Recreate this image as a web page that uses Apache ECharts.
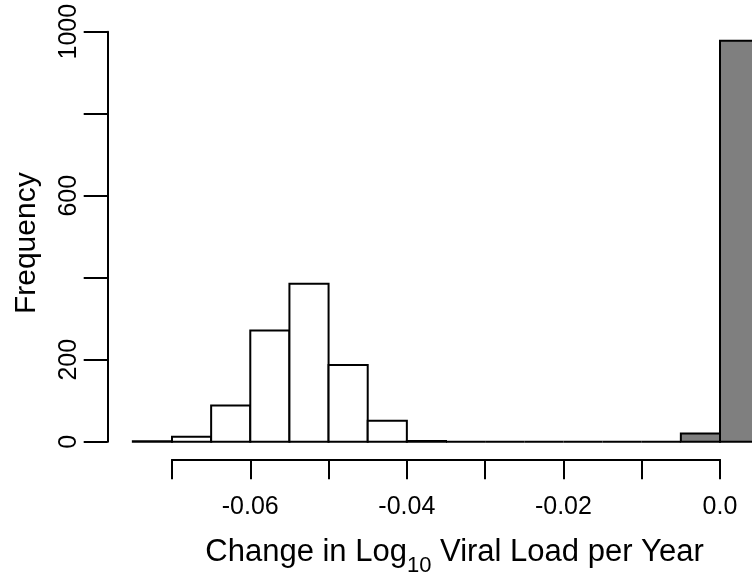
<!DOCTYPE html>
<html>
<head>
<meta charset="utf-8">
<script src="https://cdn.jsdelivr.net/npm/echarts@6/dist/echarts.min.js"></script>
<style>
html,body{margin:0;padding:0;background:#fff;}
#chart{width:752px;height:572px;}
</style>
</head>
<body>
<div id="chart"></div>
<script>
// Histogram bins (left edges) and counts
var binStarts = [-0.075,-0.070,-0.065,-0.060,-0.055,-0.050,-0.045,-0.040,-0.035,-0.030,-0.025,-0.020,-0.015,-0.010,-0.005,0.000];
var binWidth = 0.005;
var counts = [1,12,88,271,385,187,51,2,0,0,0,0,0,0,20,978];
var fillGroup = ['neg','neg','neg','neg','neg','neg','neg','neg','neg','neg','neg','neg','neg','neg','zero','zero'];
var xTickLabels = {'-0.06':'-0.06','-0.04':'-0.04','-0.02':'-0.02','0':'0.0'};
var yTickLabels = [0,200,600,1000];

var fillColors = {neg:'#ffffff', zero:'#7f7f7f'};
var FONT = 'Liberation Sans, Arial, Helvetica, sans-serif';

var data = binStarts.map(function(s,i){
  return {value:[s, s+binWidth, counts[i]], itemStyle:{color:fillColors[fillGroup[i]]}};
});

var chart = echarts.init(document.getElementById('chart'), null, {renderer:'canvas'});
var pxPerUnit = 548/0.07;
var mainLeft = 720 - 0.075*pxPerUnit;
var mainMax = (752 - 720)/pxPerUnit;
var mainWidth = 752 - mainLeft;

chart.setOption({
  animation:false,
  backgroundColor:'#fff',
  title:{
    text:'{a|Change in Log}{s|10}{a| Viral Load per Year}',
    left:449.5, textAlign:'center', top:532,
    textStyle:{
      fontWeight:'normal',
      rich:{
        a:{fontFamily:FONT,fontSize:31,fontWeight:'normal',color:'#000',lineHeight:40,verticalAlign:'top'},
        s:{fontFamily:FONT,fontSize:22,fontWeight:'normal',color:'#000',lineHeight:40,verticalAlign:'bottom'}
      }
    }
  },
  grid:[
    {left:mainLeft, width:mainWidth, top:31.7, height:410, containLabel:false},
    {left:172, width:548, top:31.7, height:410, containLabel:false}
  ],
  xAxis:[
    {gridIndex:0, type:'value', min:-0.075, max:mainMax, show:false},
    {gridIndex:1, type:'value', min:-0.07, max:0, interval:0.01, position:'bottom', offset:17.6,
     axisLine:{show:true,onZero:false,lineStyle:{color:'#000',width:2}},
     axisTick:{show:true,length:20,inside:false,lineStyle:{color:'#000',width:2}},
     splitLine:{show:false},
     axisLabel:{show:true,margin:35,color:'#000',fontFamily:FONT,fontSize:25,
       formatter:function(v){var k=String(Math.round(v*100)/100); return xTickLabels[k]!==undefined?xTickLabels[k]:'';}}
    }
  ],
  yAxis:[
    {gridIndex:0, type:'value', min:0, max:1000, interval:200, position:'left', offset:mainLeft-107.7,
     axisLine:{show:true,onZero:false,lineStyle:{color:'#000',width:2}},
     axisTick:{show:true,length:24,inside:false,lineStyle:{color:'#000',width:2}},
     splitLine:{show:false},
     axisLabel:{show:true,rotate:90,margin:26,color:'#000',fontFamily:FONT,fontSize:25,
       formatter:function(v){return yTickLabels.indexOf(v)>=0?String(v):'';}},
     name:'Frequency', nameLocation:'middle', nameRotate:90, nameGap:66,
     nameTextStyle:{color:'#000',fontFamily:FONT,fontSize:30,padding:[0,13,0,0]}
    },
    {gridIndex:1, type:'value', min:0, max:1000, show:false}
  ],
  series:[{
    type:'custom',
    xAxisIndex:0, yAxisIndex:0,
    clip:false,
    renderItem:function(params, api){
      var p0 = api.coord([api.value(0), api.value(2)]);
      var p1 = api.coord([api.value(1), 0]);
      return {
        type:'rect',
        shape:{x:p0[0], y:p0[1], width:p1[0]-p0[0], height:p1[1]-p0[1]},
        style:{fill:api.visual('color'), stroke:'#000', lineWidth:2}
      };
    },
    encode:{x:[0,1], y:2},
    data:data
  }]
});
</script>
</body>
</html>
